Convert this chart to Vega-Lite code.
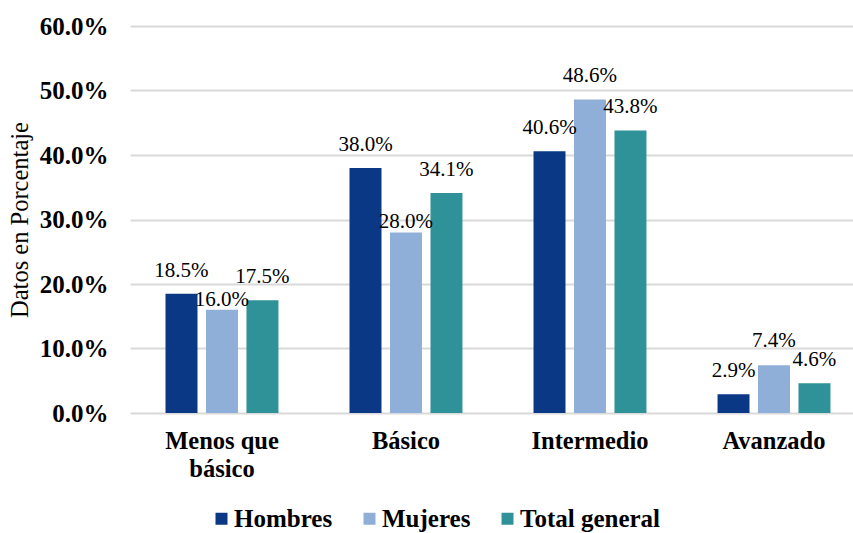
{
  "$schema": "https://vega.github.io/schema/vega-lite/v6.json",
  "autosize": {"type": "none"},
  "padding": {"left": 130, "top": 26, "right": 0, "bottom": 120},
  "width": 723,
  "height": 387,
  "background": "white",
  "config": {
    "view": {"stroke": null},
    "font": "Liberation Serif"
  },
  "data": {
    "values": [
      {"nivel": "Menos que básico", "grupo": "Hombres", "valor": 0.185},
      {"nivel": "Menos que básico", "grupo": "Mujeres", "valor": 0.160},
      {"nivel": "Menos que básico", "grupo": "Total general", "valor": 0.175},
      {"nivel": "Básico", "grupo": "Hombres", "valor": 0.380},
      {"nivel": "Básico", "grupo": "Mujeres", "valor": 0.280},
      {"nivel": "Básico", "grupo": "Total general", "valor": 0.341},
      {"nivel": "Intermedio", "grupo": "Hombres", "valor": 0.406},
      {"nivel": "Intermedio", "grupo": "Mujeres", "valor": 0.486},
      {"nivel": "Intermedio", "grupo": "Total general", "valor": 0.438},
      {"nivel": "Avanzado", "grupo": "Hombres", "valor": 0.029},
      {"nivel": "Avanzado", "grupo": "Mujeres", "valor": 0.074},
      {"nivel": "Avanzado", "grupo": "Total general", "valor": 0.046}
    ]
  },
  "encoding": {
    "x": {
      "field": "nivel",
      "type": "nominal",
      "sort": ["Menos que básico", "Básico", "Intermedio", "Avanzado"],
      "scale": {"paddingInner": 0.34, "paddingOuter": 0.1346, "align": 0.631},
      "axis": {
        "title": null,
        "labelAngle": 0,
        "domain": false,
        "ticks": false,
        "labelPadding": 16,
        "labelFont": "Liberation Serif",
        "labelFontSize": 24.5,
        "labelFontWeight": "bold",
        "labelColor": "black",
        "labelLineHeight": 28,
        "labelBaseline": "top",
        "labelExpr": "datum.label == 'Menos que básico' ? ['Menos que', 'básico'] : datum.label"
      }
    },
    "xOffset": {
      "field": "grupo",
      "type": "nominal",
      "sort": ["Hombres", "Mujeres", "Total general"],
      "scale": {"paddingInner": 0.21, "paddingOuter": 0.105}
    },
    "y": {
      "field": "valor",
      "type": "quantitative",
      "scale": {"domain": [0, 0.6], "nice": false},
      "axis": {
        "title": "Datos en Porcentaje",
        "titleFont": "Liberation Serif",
        "titleFontSize": 24.5,
        "titleFontWeight": "normal",
        "titleColor": "black",
        "titleX": -110,
        "titleY": 193.5,
        "titleAngle": -90,
        "titleAlign": "center",
        "titleBaseline": "middle",
        "values": [0, 0.1, 0.2, 0.3, 0.4, 0.5, 0.6],
        "format": ".1%",
        "domain": false,
        "ticks": false,
        "labelPadding": 22,
        "labelFont": "Liberation Serif",
        "labelFontSize": 25,
        "labelFontWeight": "bold",
        "labelColor": "black",
        "grid": true,
        "gridColor": "#d9d9d9",
        "gridWidth": 2
      }
    }
  },
  "layer": [
    {
      "mark": {"type": "bar"},
      "encoding": {
        "color": {
          "field": "grupo",
          "type": "nominal",
          "scale": {
            "domain": ["Hombres", "Mujeres", "Total general"],
            "range": ["#0a3885", "#8faed8", "#2e9298"]
          },
          "legend": {
            "title": null,
            "orient": "none",
            "direction": "horizontal",
            "legendX": 79,
            "legendY": 480,
            "padding": 0,
            "symbolType": "square",
            "symbolSize": 144,
            "symbolStrokeWidth": 0,
            "symbolOpacity": 1,
            "labelFont": "Liberation Serif",
            "labelFontSize": 25,
            "labelFontWeight": "bold",
            "labelColor": "black",
            "labelOffset": 0,
            "columnPadding": 24,
            "labelLimit": 300
          }
        }
      }
    },
    {
      "transform": [{"filter": "datum.grupo != 'Mujeres'"}],
      "mark": {
        "type": "text",
        "baseline": "alphabetic",
        "align": "center",
        "dy": -17,
        "font": "Liberation Serif",
        "fontSize": 21,
        "color": "black"
      },
      "encoding": {
        "text": {"field": "valor", "type": "quantitative", "format": ".1%"}
      }
    },
    {
      "transform": [{"filter": "datum.grupo == 'Mujeres' && (datum.nivel == 'Menos que básico' || datum.nivel == 'Básico')"}],
      "mark": {
        "type": "text",
        "baseline": "alphabetic",
        "align": "center",
        "dy": -4,
        "font": "Liberation Serif",
        "fontSize": 21,
        "color": "black"
      },
      "encoding": {
        "text": {"field": "valor", "type": "quantitative", "format": ".1%"}
      }
    },
    {
      "transform": [{"filter": "datum.grupo == 'Mujeres' && (datum.nivel == 'Intermedio' || datum.nivel == 'Avanzado')"}],
      "mark": {
        "type": "text",
        "baseline": "alphabetic",
        "align": "center",
        "dy": -18,
        "font": "Liberation Serif",
        "fontSize": 21,
        "color": "black"
      },
      "encoding": {
        "text": {"field": "valor", "type": "quantitative", "format": ".1%"}
      }
    }
  ]
}
